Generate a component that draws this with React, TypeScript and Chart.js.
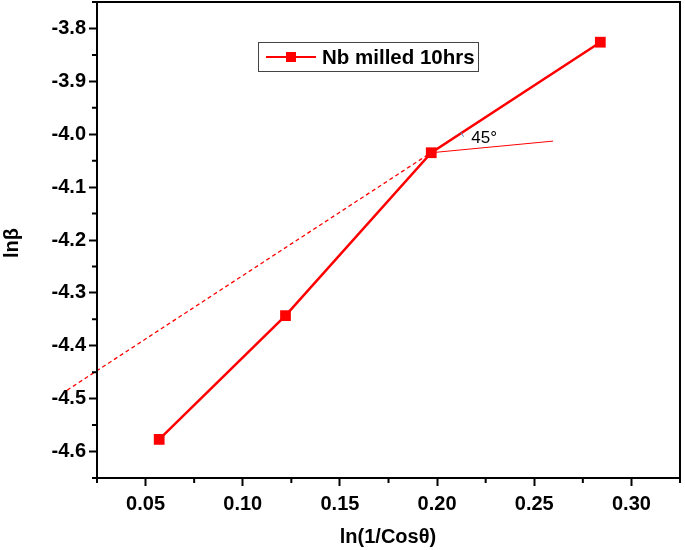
import React, { useEffect, useRef } from "react";
import { Chart, registerables } from "chart.js";

Chart.register(...registerables);

const xValues = [0.057, 0.122, 0.197, 0.284];
const yValues = [-4.577, -4.343, -4.035, -3.826];
const dashX = [0.0096, 0.284];
const dashY = [-4.484, -3.826];
const flatX = [0.197, 0.2597];
const flatY = [-4.035, -4.013];
const xTicks = [0.05, 0.1, 0.15, 0.2, 0.25, 0.3];
const yTicks = [-4.6, -4.5, -4.4, -4.3, -4.2, -4.1, -4.0, -3.9, -3.8];
const xMinor = [0.025, 0.075, 0.125, 0.175, 0.225, 0.275, 0.325];
const yMinor = [-4.65, -4.55, -4.45, -4.35, -4.25, -4.15, -4.05, -3.95, -3.85, -3.75];
const seriesName = "Nb milled 10hrs";
const angleText = "45°";
const xTitle = "ln(1/Cosθ)";
const yTitle = "lnβ";

const RED = "#ff0000";
const FONT = "'Liberation Sans', Arial, sans-serif";

export default function App() {
  const ref = useRef<HTMLCanvasElement | null>(null);

  useEffect(() => {
    document.body.style.margin = "0";
    const canvas = ref.current;
    if (!canvas) return;

    const decor = {
      id: "decor",
      afterDraw(chart: any) {
        const ctx = chart.ctx;
        const a = chart.chartArea;
        const xs = chart.scales.x;
        const ys = chart.scales.y;
        ctx.save();
        // frame
        ctx.strokeStyle = "#000";
        ctx.lineWidth = 2;
        ctx.strokeRect(a.left, a.top, a.right - a.left, a.bottom - a.top);
        // minor ticks
        ctx.lineWidth = 2;
        ctx.beginPath();
        xMinor.forEach((v) => {
          const px = xs.getPixelForValue(v);
          ctx.moveTo(px, a.bottom);
          ctx.lineTo(px, a.bottom + 5);
        });
        yMinor.forEach((v) => {
          const py = ys.getPixelForValue(v);
          ctx.moveTo(a.left, py);
          ctx.lineTo(a.left - 5, py);
        });
        ctx.stroke();
        // titles
        ctx.fillStyle = "#000";
        ctx.font = `bold 20px ${FONT}`;
        ctx.textAlign = "center";
        ctx.textBaseline = "middle";
        ctx.fillText(xTitle, 388, 537);
        ctx.save();
        ctx.translate(12, 243);
        ctx.rotate(-Math.PI / 2);
        ctx.fillText(yTitle, 0, 0);
        ctx.restore();
        // angle annotation
        const ax = xs.getPixelForValue(flatX[0]);
        const ay = ys.getPixelForValue(flatY[0]);
        ctx.strokeStyle = "#4a7fd0";
        ctx.lineWidth = 1;
        ctx.beginPath();
        ctx.arc(ax, ay, 36, -0.62, -0.46);
        ctx.stroke();
        ctx.fillStyle = "#000";
        ctx.font = `17px ${FONT}`;
        ctx.textAlign = "left";
        ctx.textBaseline = "alphabetic";
        ctx.fillText(angleText, ax + 40, ay - 10);
        // legend
        const lx = 258, ly = 42, lw = 220, lh = 29;
        ctx.fillStyle = "#fff";
        ctx.fillRect(lx, ly, lw, lh);
        ctx.strokeStyle = "#444";
        ctx.lineWidth = 1;
        ctx.strokeRect(lx + 0.5, ly + 0.5, lw, lh);
        const cy = ly + lh / 2 + 0.5;
        ctx.strokeStyle = RED;
        ctx.lineWidth = 2;
        ctx.beginPath();
        ctx.moveTo(266, cy);
        ctx.lineTo(316, cy);
        ctx.stroke();
        ctx.fillStyle = RED;
        ctx.fillRect(286, cy - 5, 10, 10);
        ctx.fillStyle = "#000";
        ctx.font = `bold 20.5px ${FONT}`;
        ctx.textBaseline = "middle";
        ctx.fillText(seriesName, 322, cy + 1);
        ctx.restore();
      },
    };

    const chart = new Chart(canvas, {
      type: "scatter",
      data: {
        datasets: [
          {
            label: "dash",
            data: dashX.map((x, i) => ({ x, y: dashY[i] })),
            showLine: true,
            borderColor: RED,
            borderWidth: 1.3,
            borderDash: [4, 3],
            pointRadius: 0,
            clip: false as any,
          },
          {
            label: "flat",
            data: flatX.map((x, i) => ({ x, y: flatY[i] })),
            showLine: true,
            borderColor: RED,
            borderWidth: 1,
            pointRadius: 0,
          },
          {
            label: seriesName,
            data: xValues.map((x, i) => ({ x, y: yValues[i] })),
            showLine: true,
            borderColor: RED,
            backgroundColor: RED,
            borderWidth: 2.5,
            pointStyle: "rect",
            pointRadius: 7.6,
            pointBorderWidth: 0,
          },
        ],
      },
      options: {
        animation: false,
        responsive: false,
        layout: { autoPadding: false, padding: { top: 2, right: 5, left: 0, bottom: 0 } },
        plugins: { legend: { display: false }, tooltip: { enabled: false } },
        scales: {
          x: {
            type: "linear",
            min: 0.025,
            max: 0.325,
            afterBuildTicks: (s: any) => {
              s.ticks = xTicks.map((v) => ({ value: v }));
            },
            afterFit: (s: any) => {
              s.height = 72;
              s.paddingLeft = 0;
              s.paddingRight = 0;
              s.paddingTop = 0;
              s.paddingBottom = 0;
            },
            border: { display: false },
            grid: {
              drawOnChartArea: false,
              drawTicks: true,
              tickLength: 8,
              tickColor: "#000",
              tickWidth: 2,
            },
            ticks: {
              color: "#000",
              font: { family: FONT, size: 20, weight: "bold" },
              padding: 6,
              maxRotation: 0,
              callback: (v: any) => Number(v).toFixed(2),
            },
          },
          y: {
            type: "linear",
            min: -4.65,
            max: -3.75,
            afterBuildTicks: (s: any) => {
              s.ticks = yTicks.map((v) => ({ value: v }));
            },
            afterFit: (s: any) => {
              s.width = 97;
              s.paddingLeft = 0;
              s.paddingRight = 0;
              s.paddingTop = 0;
              s.paddingBottom = 0;
            },
            border: { display: false },
            grid: {
              drawOnChartArea: false,
              drawTicks: true,
              tickLength: 8,
              tickColor: "#000",
              tickWidth: 2,
            },
            ticks: {
              color: "#000",
              font: { family: FONT, size: 20, weight: "bold" },
              padding: 3,
              callback: (v: any) => Number(v).toFixed(1),
            },
          },
        },
      },
      plugins: [decor],
    } as any);

    return () => chart.destroy();
  }, []);

  return (
    <div style={{ width: 685, height: 550, position: "relative" }}>
      <canvas ref={ref} width={685} height={550} style={{ display: "block" }} />
    </div>
  );
}
